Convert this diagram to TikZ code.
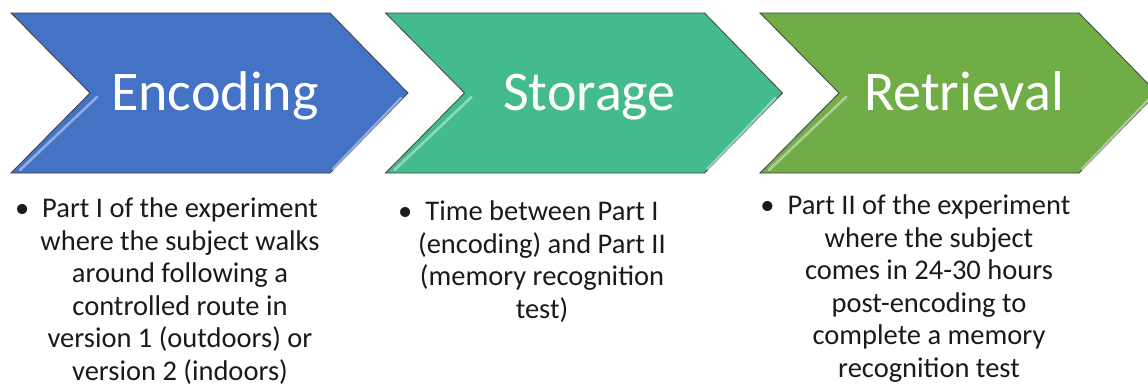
\documentclass[tikz,border=0pt]{standalone}
\usepackage{fontspec}
\setmainfont{Carlito}
\usepackage{xcolor}
\usetikzlibrary{calc}
\definecolor{encblue}{HTML}{4472C4}
\definecolor{stoteal}{HTML}{44BB8C}
\definecolor{retgreen}{HTML}{70AD47}
\definecolor{rim}{HTML}{404040}
\definecolor{ink}{HTML}{1A1A1A}
\tikzset{
  chev/.style={draw=rim, line width=0.8pt, line join=miter},
  glint/.style={line width=2.6pt, line cap=round, opacity=0.7},
  title/.style={text=white, font=\fontsize{56}{60}\selectfont, inner sep=0pt},
  desc/.style={text=ink, align=center, inner sep=0pt,
    font=\fontsize{28.5}{32.5}\selectfont}
}
\newcommand{\bul}{\llap{\textbullet\hspace{13pt}}}

\begin{document}
\begin{tikzpicture}[x=1pt, y=-1pt]
  \useasboundingbox (0,0) rectangle (1148,386);

  % the three stages
  \foreach \name/\col/\word [count=\i from 0] in
      {enc/encblue/Encoding, sto/stoteal/Storage, ret/retgreen/Retrieval}{
    \pgfmathsetmacro{\ox}{374.5*\i}
    \draw[chev, fill=\col] (11+\ox,13) -- (330+\ox,13) -- (408+\ox,93)
      -- (330+\ox,173) -- (11+\ox,173) -- (90+\ox,93) -- cycle;
    \draw[glint, \col!40!white] (97+\ox,97) -- (20+\ox,170);
    \draw[glint, \col!40!white] (401+\ox,98) -- (333+\ox,169);
    \node[title, anchor=base] (\name) at (215+\ox,110) {\word};
  }

  % base anchor sits on the last line
  \node[desc, anchor=base] (encdesc) at (180,380) {%
    \bul Part I of the experiment\\ where the subject walks\\
    around following a\\ controlled route in\\
    version 1 (outdoors) or\\ version 2 (indoors)};
  \node[desc, anchor=base] (stodesc) at (542,318) {%
    \bul Time between Part I\\ (encoding) and Part II\\
    (memory recognition\\ test)};
  \node[desc, anchor=base] (retdesc) at (929,377) {%
    \bul Part II of the experiment\\ where the subject\\
    comes in 24-30 hours\\ post-encoding to\\
    complete a memory\\ recognition test};
\end{tikzpicture}
\end{document}
